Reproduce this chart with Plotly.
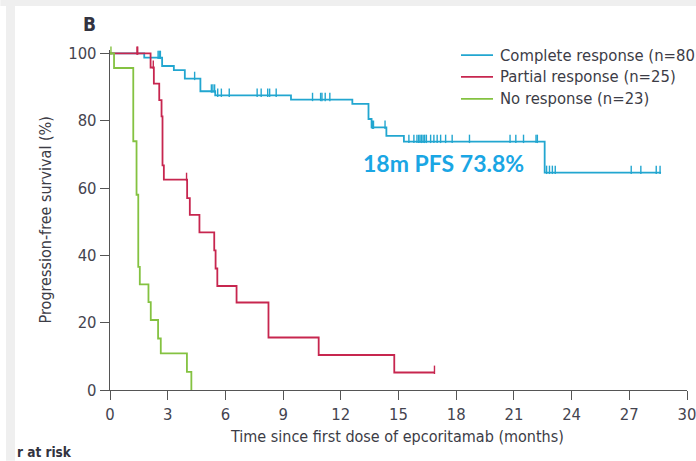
import plotly.graph_objects as go

# Kaplan-Meier step data (time in months, survival in %)
cr_time = [0, 1.78, 2.71, 3.32, 3.89, 4.70, 5.47, 9.41, 12.60, 13.44, 13.60, 14.37, 15.28, 22.60, 28.65]
cr_surv = [100, 98.75, 96.25, 95.0, 92.5, 88.75, 87.5, 86.25, 85.0, 80.5, 78.0, 75.5, 73.8, 64.6, 64.6]
cr_cens = [2.50, 2.56, 2.62, 4.40, 5.27, 5.35, 5.44, 5.60, 5.79, 6.20, 7.65, 7.86, 8.20, 8.30,
           8.64, 10.53, 10.95, 11.02, 11.19, 11.43, 13.64, 13.70, 14.30, 15.54, 15.80, 15.96,
           16.05, 16.12, 16.20, 16.28, 16.36, 16.45, 16.67, 16.84, 17.01, 17.19, 17.45, 17.79,
           18.69, 20.80, 21.10, 21.50, 22.15, 22.22, 22.70, 22.85, 23.00, 23.15, 27.10, 27.60,
           28.40, 28.60]

pr_time = [0, 2.11, 2.28, 2.56, 2.68, 2.73, 2.80, 4.01, 4.15, 4.65, 5.42, 5.49, 5.58, 6.58,
           8.24, 10.85, 14.78, 16.87]
pr_surv = [100, 95.8, 91.0, 86.1, 81.3, 66.7, 62.5, 57.0, 52.0, 46.8, 41.5, 36.1, 30.9, 26.0,
           15.6, 10.4, 5.2, 5.2]
pr_cens = [1.40, 1.44, 2.25, 3.98, 16.87]

nr_time = [0, 0.21, 1.21, 1.38, 1.47, 1.55, 2.00, 2.12, 2.50, 2.64, 4.00, 4.23]
nr_surv = [100, 95.65, 73.9, 58.0, 36.6, 31.4, 26.1, 20.8, 15.3, 10.9, 5.4, 0]
nr_cens = [0.05]

x_ticks = [0, 3, 6, 9, 12, 15, 18, 21, 24, 27, 30]
y_ticks = [0, 20, 40, 60, 80, 100]

groups = [
    ("Complete response (n=80)", cr_time, cr_surv, cr_cens, "#22a6d0"),
    ("Partial response (n=25)", pr_time, pr_surv, pr_cens, "#c7264f"),
    ("No response (n=23)", nr_time, nr_surv, nr_cens, "#84c241"),
]

FONT = "DejaVu Sans Condensed, Roboto, sans-serif"
TXT = "#3c3c46"
TICK_UP = 0.8  # censor tick sits just above the curve


def level_at(times, surv, t):
    s = surv[0]
    for ti, si in zip(times, surv):
        if ti <= t:
            s = si
    return s


fig = go.Figure()
for name, t, s, cens, color in groups:
    fig.add_trace(go.Scatter(
        x=t, y=s, mode="lines", line=dict(color=color, width=1.8, shape="hv"),
        name=name, cliponaxis=False, showlegend=False,
    ))
for name, t, s, cens, color in groups:
    fig.add_trace(go.Scatter(
        x=cens, y=[level_at(t, s, c) + TICK_UP for c in cens], mode="markers",
        marker=dict(symbol="line-ns", size=6, line=dict(color=color, width=1.4)),
        showlegend=False, hoverinfo="skip", cliponaxis=False,
    ))

axis_common = dict(
    showgrid=False, zeroline=False, showline=True, linecolor="#555555", linewidth=1.3,
    ticks="outside", ticklen=9, tickwidth=1.3, tickcolor="#555555",
    tickfont=dict(family=FONT, size=16.5, color="#44444f"),
    ticklabeloverflow="allow",
)

fig.update_layout(
    width=696, height=461,
    margin=dict(l=110, r=9, t=50, b=71, autoexpand=False),
    paper_bgcolor="white", plot_bgcolor="white",
    xaxis=dict(range=[0, 30], tickvals=x_ticks, **axis_common),
    yaxis=dict(range=[0, 101], tickvals=y_ticks, **axis_common),
    showlegend=False,
)

# key: short line sample followed by the group name, one row per group
key_x0, key_x1, key_tx = 0.6083, 0.6638, 0.6724
key_rows = [0.985, 0.921, 0.856]
for (name, t, s, cens, color), ky in zip(groups, key_rows):
    fig.add_shape(type="line", xref="paper", yref="paper", x0=key_x0, x1=key_x1, y0=ky, y1=ky,
                  line=dict(color=color, width=1.8))
    fig.add_annotation(text=name, x=key_tx, y=ky, xref="paper", yref="paper",
                       xanchor="left", yanchor="middle", showarrow=False,
                       font=dict(family=FONT, size=16.5, color=TXT))

fig.add_annotation(text="<b>18m PFS 73.8%</b>", x=17.35, y=67.4, xref="x", yref="y",
                   showarrow=False, font=dict(family="Lato, sans-serif", size=23, color="#1aa6e4"),
                   xanchor="center", yanchor="middle")
fig.add_annotation(text="<b>B</b>", x=-0.0347, y=1.076, xref="paper", yref="paper",
                   xanchor="center", yanchor="middle",
                   showarrow=False, font=dict(family=FONT, size=19, color="#333340"))
fig.add_annotation(text="Progression-free survival (%)", x=-0.112, y=0.5, xref="paper", yref="paper",
                   xanchor="center", yanchor="middle",
                   textangle=-90, showarrow=False, font=dict(family=FONT, size=16, color=TXT))
fig.add_annotation(text="Time since first dose of epcoritamab (months)", x=0.497, y=-0.138,
                   xref="paper", yref="paper", xanchor="center", yanchor="middle", showarrow=False,
                   font=dict(family=FONT, size=16, color=TXT))
fig.add_annotation(text="<b>r at risk</b>", x=-0.1646, y=-0.182, xref="paper", yref="paper",
                   xanchor="left", yanchor="middle", showarrow=False,
                   font=dict(family=FONT, size=13.5, color="#333340"))

# page border strips
fig.add_shape(type="rect", xref="paper", yref="paper", x0=-0.1802, x1=-0.1646, y0=-0.208, y1=1.147,
              fillcolor="#efefef", line_width=0, layer="below")
fig.add_shape(type="rect", xref="paper", yref="paper", x0=-0.19, x1=1.0156, y0=1.1294, y1=1.147,
              fillcolor="#efefef", line_width=0, layer="below")

fig.write_html(
    "out.html",
    post_script="document.documentElement.style.overflow='hidden';document.body.style.overflow='hidden';",
)
